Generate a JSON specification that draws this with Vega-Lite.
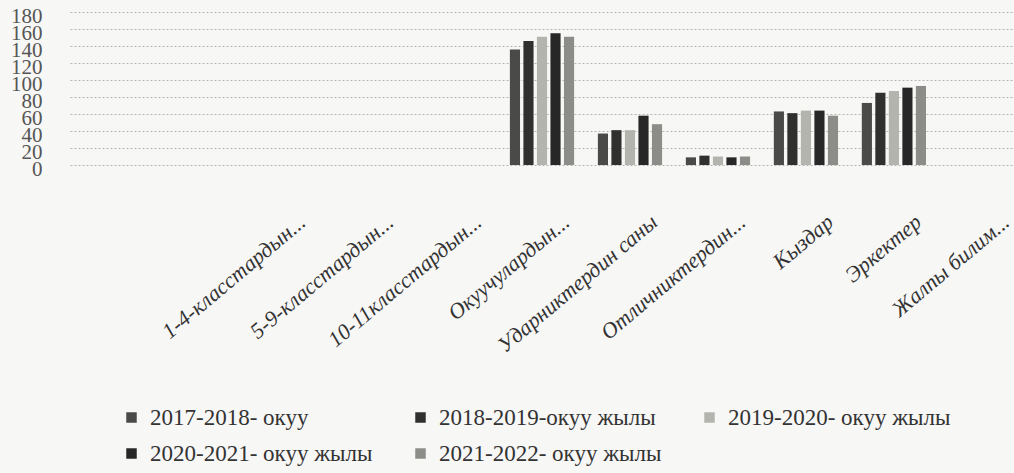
{
  "$schema": "https://vega.github.io/schema/vega-lite/v6.json",
  "autosize": {"type": "none"},
  "width": 944,
  "height": 153,
  "padding": {"left": 70, "top": 12, "right": 0, "bottom": 308},
  "background": "#f7f7f6",
  "config": {"view": {"stroke": null}, "font": "Liberation Serif", "legend": {"labelFont": "Liberation Serif"}, "axis": {"labelFont": "Liberation Serif"}},
  "data": {
    "values": [
      {"category": "Окуучулардын...", "year": "2017-2018- окуу", "value": 136},
      {"category": "Окуучулардын...", "year": "2018-2019-окуу жылы", "value": 146},
      {"category": "Окуучулардын...", "year": "2019-2020-  окуу жылы", "value": 151},
      {"category": "Окуучулардын...", "year": "2020-2021-  окуу жылы", "value": 155},
      {"category": "Окуучулардын...", "year": "2021-2022-  окуу жылы", "value": 151},
      {"category": "Ударниктердин саны", "year": "2017-2018- окуу", "value": 37},
      {"category": "Ударниктердин саны", "year": "2018-2019-окуу жылы", "value": 41},
      {"category": "Ударниктердин саны", "year": "2019-2020-  окуу жылы", "value": 41},
      {"category": "Ударниктердин саны", "year": "2020-2021-  окуу жылы", "value": 58},
      {"category": "Ударниктердин саны", "year": "2021-2022-  окуу жылы", "value": 48},
      {"category": "Отличниктердин...", "year": "2017-2018- окуу", "value": 9},
      {"category": "Отличниктердин...", "year": "2018-2019-окуу жылы", "value": 11},
      {"category": "Отличниктердин...", "year": "2019-2020-  окуу жылы", "value": 10},
      {"category": "Отличниктердин...", "year": "2020-2021-  окуу жылы", "value": 9},
      {"category": "Отличниктердин...", "year": "2021-2022-  окуу жылы", "value": 10},
      {"category": "Кыздар", "year": "2017-2018- окуу", "value": 63},
      {"category": "Кыздар", "year": "2018-2019-окуу жылы", "value": 61},
      {"category": "Кыздар", "year": "2019-2020-  окуу жылы", "value": 64},
      {"category": "Кыздар", "year": "2020-2021-  окуу жылы", "value": 64},
      {"category": "Кыздар", "year": "2021-2022-  окуу жылы", "value": 58},
      {"category": "Эркектер", "year": "2017-2018- окуу", "value": 73},
      {"category": "Эркектер", "year": "2018-2019-окуу жылы", "value": 85},
      {"category": "Эркектер", "year": "2019-2020-  окуу жылы", "value": 87},
      {"category": "Эркектер", "year": "2020-2021-  окуу жылы", "value": 91},
      {"category": "Эркектер", "year": "2021-2022-  окуу жылы", "value": 93}
    ]
  },
  "mark": {"type": "bar"},
  "encoding": {
    "x": {
      "field": "category",
      "type": "nominal",
      "sort": null,
      "scale": {
        "domain": ["1-4-класстардын...", "5-9-класстардын...", "10-11класстардын...", "Окуучулардын...", "Ударниктердин саны", "Отличниктердин...", "Кыздар", "Эркектер", "Жалпы билим..."],
        "paddingInner": 0.27,
        "paddingOuter": 1.0,
        "align": 1
      },
      "axis": {
        "title": null,
        "labelAngle": -40,
        "labelFontSize": 22,
        "labelFontStyle": "italic",
        "labelFont": "Liberation Serif",
        "labelPadding": 46,
        "labelOffset": 18,
        "labelColor": "#333333",
        "labelLimit": 400,
        "domain": false,
        "ticks": false
      }
    },
    "xOffset": {"field": "year", "type": "nominal", "sort": null, "scale": {"paddingInner": 0.25}},
    "y": {
      "field": "value",
      "type": "quantitative",
      "scale": {"domain": [0, 180], "nice": false},
      "axis": {
        "title": null,
        "values": [0, 20, 40, 60, 80, 100, 120, 140, 160, 180],
        "labelOverlap": false,
        "grid": true,
        "gridDash": [2, 2],
        "gridColor": "#b5b5b5",
        "domain": false,
        "ticks": false,
        "labelPadding": 28,
        "labelFontSize": 21,
        "labelFont": "Liberation Serif",
        "labelColor": "#555555",
        "labelOffset": 4
      }
    },
    "color": {
      "field": "year",
      "type": "nominal",
      "sort": null,
      "scale": {
        "domain": ["2017-2018- окуу", "2018-2019-окуу жылы", "2019-2020-  окуу жылы", "2020-2021-  окуу жылы", "2021-2022-  окуу жылы"],
        "range": ["#4a4a48", "#30312f", "#b4b4ae", "#272727", "#8c8c88"]
      },
      "legend": {
        "title": null,
        "orient": "none",
        "legendX": 50,
        "legendY": 394,
        "columns": 3,
        "gridAlign": "none",
        "direction": "horizontal",
        "symbolType": "square",
        "symbolSize": 110,
        "symbolStrokeWidth": 0,
        "labelFontSize": 23,
        "labelFont": "Liberation Serif",
        "labelColor": "#333333",
        "labelLimit": 500,
        "labelOffset": 7,
        "columnPadding": 30,
        "rowPadding": 12
      }
    }
  }
}
